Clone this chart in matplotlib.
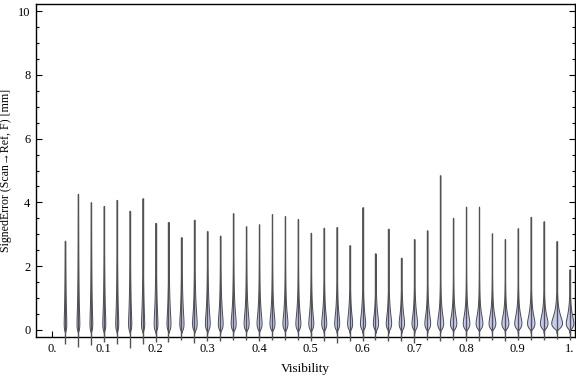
import numpy as np
import matplotlib
matplotlib.use("Agg")
import matplotlib.pyplot as plt
from matplotlib.ticker import MultipleLocator, FixedLocator

plt.rcParams["font.family"] = ["Liberation Serif", "DejaVu Serif"]

# visibility bins (violin centres)
visibility = [0.025, 0.05, 0.075, 0.1, 0.125, 0.15, 0.175, 0.2, 0.225, 0.25,
              0.275, 0.3, 0.325, 0.35, 0.375, 0.4, 0.425, 0.45, 0.475, 0.5,
              0.525, 0.55, 0.575, 0.6, 0.625, 0.65, 0.675, 0.7, 0.725, 0.75,
              0.775, 0.8, 0.825, 0.85, 0.875, 0.9, 0.925, 0.95, 0.975, 1.0]

# largest signed error per bin [mm]
err_max = [2.80, 4.27, 4.00, 3.89, 4.08, 3.74, 4.13, 3.36, 3.39, 2.91,
           3.46, 3.10, 2.96, 3.66, 3.25, 3.31, 3.63, 3.57, 3.48, 3.05,
           3.21, 3.23, 2.66, 3.85, 2.40, 3.18, 2.27, 2.85, 3.12, 4.85,
           3.52, 3.87, 3.87, 3.03, 2.85, 3.19, 3.55, 3.41, 2.79, 1.90]

# smallest signed error per bin [mm]
err_min = [-0.44, -0.53, -0.47, -0.39, -0.44, -0.55, -0.44, -0.37, -0.39, -0.31,
           -0.42, -0.34, -0.34, -0.31, -0.32, -0.34, -0.32, -0.31, -0.30, -0.33,
           -0.35, -0.41, -0.33, -0.36, -0.31, -0.34, -0.33, -0.41, -0.31, -0.36,
           -0.31, -0.36, -0.34, -0.31, -0.33, -0.31, -0.30, -0.30, -0.29, -0.30]

# density peak half-width (in pixels) and log-spread of each violin body
peak_width = [1.3, 1.4, 1.4, 1.5, 1.5, 1.6, 1.6, 1.9, 2.0, 2.1,
              2.3, 2.4, 2.4, 2.5, 2.5, 2.5, 2.5, 2.5, 2.5, 2.5,
              2.5, 2.5, 2.5, 2.6, 2.6, 2.7, 2.7, 2.8, 2.9, 3.0,
              3.2, 3.3, 3.4, 3.4, 3.5, 3.6, 3.7, 3.8, 5.4, 3.8]
body_spread = [1.15, 1.15, 1.15, 1.10, 1.10, 1.10, 1.05, 1.05, 1.00, 1.00,
               0.96, 0.94, 0.92, 0.90, 0.88, 0.86, 0.84, 0.84, 0.82, 0.82,
               0.80, 0.80, 0.78, 0.78, 0.76, 0.76, 0.74, 0.74, 0.72, 0.72,
               0.70, 0.70, 0.68, 0.68, 0.66, 0.66, 0.66, 0.64, 0.62, 0.64]

BODY_START = -0.09
PEAK_AT = 0.22
PX = 1.0 / 518.0  # x data units per pixel

fig = plt.figure(figsize=(5.76, 3.77), dpi=100)
ax = fig.add_axes([36 / 576, 1 - 337 / 377, 539 / 576, 333 / 377])

for x, lo, hi, w, s in zip(visibility, err_min, err_max, peak_width, body_spread):
    y = np.linspace(BODY_START + 1e-4, hi, 400)
    t = (y - BODY_START) / (PEAK_AT - BODY_START)
    half = w * PX * np.exp(-np.log(t) ** 2 / (2 * s ** 2))
    ax.fill_betweenx(y, x - half, x + half, facecolor="#c6ccf2",
                     edgecolor="#4a4a55", linewidth=0.7, zorder=2, clip_on=False)
    ax.plot([x, x], [lo, hi], color="#525252", lw=1.0, zorder=3,
            solid_capstyle="butt", clip_on=False)

ax.set_xlim(-0.031, 1.0105)
ax.set_ylim(-0.22, 10.22)

ax.xaxis.set_major_locator(FixedLocator([0, 0.1, 0.2, 0.3, 0.4, 0.5, 0.6, 0.7, 0.8, 0.9, 1.0]))
ax.set_xticklabels(["0.", "0.1", "0.2", "0.3", "0.4", "0.5", "0.6", "0.7", "0.8", "0.9", "1."])
ax.yaxis.set_major_locator(MultipleLocator(2))
ax.yaxis.set_minor_locator(MultipleLocator(0.5))

ax.tick_params(which="both", direction="in", top=False, right=True,
               labelsize=9, width=0.8, colors="black")
ax.tick_params(which="major", length=4.5, pad=4)
ax.tick_params(which="minor", length=2.5)
for sp in ax.spines.values():
    sp.set_linewidth(1.0)

ax.set_xlabel("Visibility", fontsize=9.5, labelpad=6)
ax.set_ylabel("SignedError (Scan\u2192Ref, F) [mm]", fontsize=8.6)
ax.yaxis.set_label_coords(-0.045, 0.5)

fig.savefig("out.png", dpi=100)
